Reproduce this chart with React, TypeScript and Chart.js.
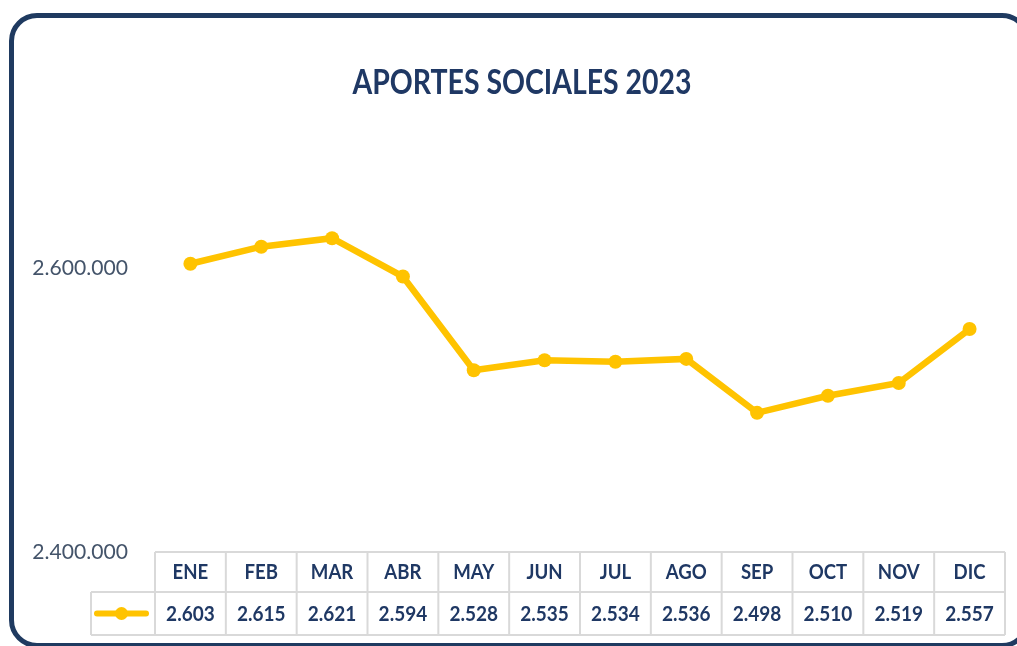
import React, { useEffect, useRef } from "react";
import { Chart, registerables } from "chart.js";

Chart.register(...registerables);

const months = ["ENE", "FEB", "MAR", "ABR", "MAY", "JUN", "JUL", "AGO", "SEP", "OCT", "NOV", "DIC"];
const aportes = [2603000, 2615000, 2621000, 2594000, 2528000, 2535000, 2534000, 2536000, 2498000, 2510000, 2519000, 2557000];
const yTickValues = [2400000, 2600000];
const yMin = 2400000;
const yMax = 2700000;
const title = "APORTES SOCIALES 2023";

const NAVY = "#1F3864";
const GOLD = "#FFC300";
const GRID = "#D9D9D9";
const AXIS_TXT = "#44546A";
const FONT = "Lato, 'Open Sans', sans-serif";

const fmt = (n: number) => {
  const s = Math.round(n).toString();
  return s.replace(/\B(?=(\d{3})+(?!\d))/g, ".");
};

function condensedText(ctx: any, text: string, x: number, y: number, sx: number, align: string) {
  ctx.save();
  ctx.translate(x, y);
  ctx.scale(sx, 1);
  ctx.textAlign = align;
  ctx.fillText(text, 0, 0);
  ctx.restore();
}

const tablePlugin = {
  id: "tablePlugin",
  afterDraw(chart: any) {
    const { ctx, chartArea } = chart;
    const xs = chart.scales.x;
    const ys = chart.scales.y;
    const n = months.length;
    const colW = (chartArea.right - chartArea.left) / n;
    const top = chartArea.bottom;
    const headH = 40;
    const rowH = 43;
    const legendW = 64;
    ctx.save();
    ctx.textBaseline = "middle";

    // title (condensed to mimic Calibri)
    ctx.fillStyle = NAVY;
    ctx.font = `bold 35px ${FONT}`;
    const tw = ctx.measureText(title).width;
    condensedText(ctx, title, 522, 83, 339 / tw, "center");

    // y tick labels
    ctx.fillStyle = AXIS_TXT;
    ctx.font = `22px ${FONT}`;
    for (const v of yTickValues) {
      condensedText(ctx, fmt(v), chartArea.left - 27, ys.getPixelForValue(v), 0.96, "right");
    }

    // grid
    ctx.strokeStyle = GRID;
    ctx.lineWidth = 2;
    const left = chartArea.left;
    const right = chartArea.right;
    ctx.beginPath();
    ctx.moveTo(left, top);
    ctx.lineTo(right, top);
    ctx.moveTo(left - legendW, top + headH);
    ctx.lineTo(right, top + headH);
    ctx.moveTo(left - legendW, top + headH + rowH);
    ctx.lineTo(right, top + headH + rowH);
    ctx.moveTo(left - legendW, top + headH);
    ctx.lineTo(left - legendW, top + headH + rowH);
    for (let i = 0; i <= n; i++) {
      const x = left + i * colW;
      ctx.moveTo(x, top);
      ctx.lineTo(x, top + headH + rowH);
    }
    ctx.stroke();

    // table text
    ctx.fillStyle = NAVY;
    ctx.font = `bold 20px ${FONT}`;
    for (let i = 0; i < n; i++) {
      const cx = xs.getPixelForValue(i);
      condensedText(ctx, months[i], cx, top + headH / 2 + 1, 0.93, "center");
      condensedText(ctx, fmt(aportes[i] / 1000), cx, top + headH + rowH / 2 + 1, 0.95, "center");
    }

    // legend key
    const ly = top + headH + rowH / 2;
    const lx0 = left - legendW + 6;
    const lx1 = left - 9;
    ctx.strokeStyle = GOLD;
    ctx.lineWidth = 6;
    ctx.lineCap = "round";
    ctx.beginPath();
    ctx.moveTo(lx0, ly);
    ctx.lineTo(lx1, ly);
    ctx.stroke();
    ctx.fillStyle = GOLD;
    ctx.beginPath();
    ctx.arc((lx0 + lx1) / 2, ly, 6.5, 0, Math.PI * 2);
    ctx.fill();
    ctx.restore();
  },
};

export default function App() {
  const ref = useRef<HTMLCanvasElement | null>(null);
  useEffect(() => {
    if (!ref.current) return;
    const chart = new Chart(ref.current, {
      type: "line",
      data: {
        labels: months,
        datasets: [
          {
            label: "Aportes sociales",
            data: aportes,
            borderColor: GOLD,
            backgroundColor: GOLD,
            borderWidth: 6.5,
            pointRadius: 7,
            pointBorderWidth: 0,
            pointBackgroundColor: GOLD,
            tension: 0,
          },
        ],
      },
      options: {
        animation: false,
        responsive: true,
        maintainAspectRatio: false,
        layout: { padding: { top: 126, right: 12, bottom: 94, left: 0 } },
        plugins: {
          legend: { display: false },
          title: { display: false },
          tooltip: { enabled: false },
        },
        scales: {
          x: {
            display: false,
            offset: true,
          },
          y: {
            min: yMin,
            max: yMax,
            grid: { display: false, drawTicks: false },
            border: { display: false },
            afterBuildTicks: (scale: any) => {
              scale.ticks = yTickValues.map((v) => ({ value: v }));
            },
            afterFit: (scale: any) => {
              scale.width = 155;
            },
            ticks: {
              display: false,
            },
          },
        },
      },
      plugins: [tablePlugin],
    });
    return () => chart.destroy();
  }, []);

  return (
    <div
      style={{
        position: "fixed",
        left: 0,
        top: 0,
        width: 1017,
        height: 646,
        overflow: "hidden",
        background: "#fff",
      }}
    >
      <div
        style={{
          position: "absolute",
          left: 9,
          top: 13,
          width: 1021,
          height: 635,
          boxSizing: "border-box",
          border: "5px solid #1F3A60",
          borderRadius: 28,
        }}
      />
      <div style={{ position: "absolute", left: 0, top: 0, width: 1017, height: 646 }}>
        <canvas ref={ref} />
      </div>
    </div>
  );
}
